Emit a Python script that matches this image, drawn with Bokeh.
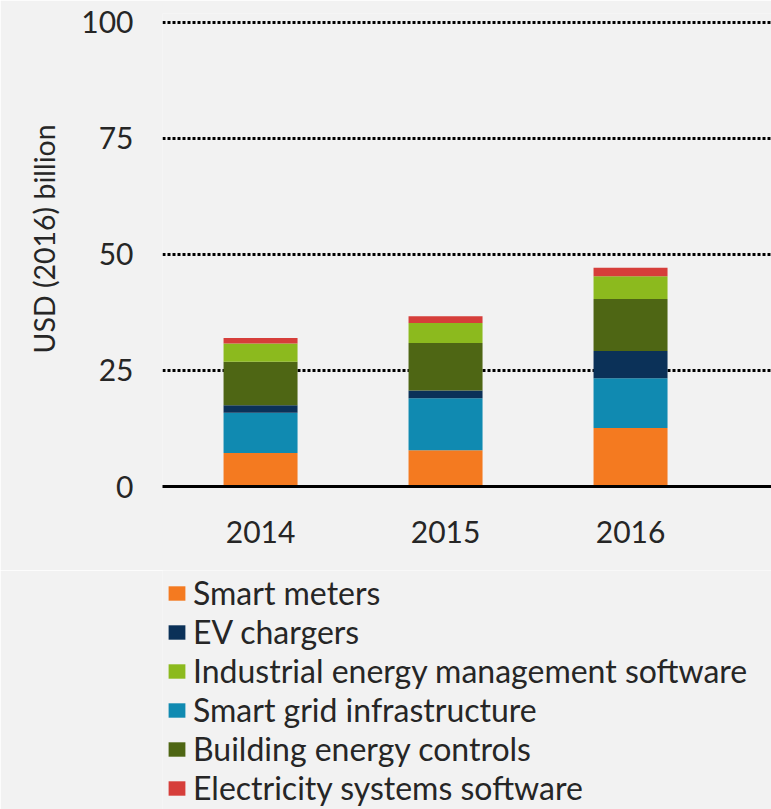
from bokeh.plotting import figure
from bokeh.layouts import column
from bokeh.models import ColumnDataSource, Range1d, FixedTicker, Legend, LegendItem, Title
from bokeh.embed import file_html
from bokeh.resources import INLINE

years = ["2014", "2015", "2016"]
smart_meters = [7.2, 7.8, 12.6]
smart_grid = [8.7, 11.2, 10.7]
ev_chargers = [1.6, 1.7, 5.9]
building_controls = [9.4, 10.2, 11.2]
industrial_software = [3.9, 4.3, 4.9]
electricity_software = [1.2, 1.5, 1.8]

stack_keys = ["smart_meters", "smart_grid", "ev_chargers", "building_controls",
              "industrial_software", "electricity_software"]
stack_labels = {"smart_meters": "Smart meters", "smart_grid": "Smart grid infrastructure",
                "ev_chargers": "EV chargers", "building_controls": "Building energy controls",
                "industrial_software": "Industrial energy management software",
                "electricity_software": "Electricity systems software"}
stack_colors = ["#F47A20", "#108AB1", "#0B3158", "#4E6614", "#8CBA1E", "#D63E3A"]
legend_order = ["smart_meters", "ev_chargers", "industrial_software", "smart_grid",
                "building_controls", "electricity_software"]

x = list(range(len(years)))
src = ColumnDataSource(dict(x=x, smart_meters=smart_meters, smart_grid=smart_grid,
                            ev_chargers=ev_chargers, building_controls=building_controls,
                            industrial_software=industrial_software,
                            electricity_software=electricity_software))

BG = "#f2f2f2"
FONT = "Lato"
TXT = "#262626"
MAIN_H = 570
p = figure(width=771, height=MAIN_H, output_backend="svg", toolbar_location=None,
           x_range=Range1d(-0.53, 2.762), y_range=Range1d(0, 101.9),
           min_border_left=162, min_border_right=0, min_border_top=13, min_border_bottom=84,
           background_fill_color=BG, border_fill_color=BG, outline_line_color=None)

renderers = p.vbar_stack(stack_keys, x="x", width=0.4, source=src, color=stack_colors,
                         line_color=None)

p.xgrid.grid_line_color = None
p.ygrid.grid_line_color = "black"
p.ygrid.grid_line_width = 3
p.ygrid.grid_line_dash = "3 2"
p.ygrid.ticker = FixedTicker(ticks=[25, 50, 75, 100])

p.yaxis.ticker = FixedTicker(ticks=[0, 25, 50, 75, 100])
p.yaxis.axis_line_color = None
p.yaxis.major_tick_line_color = None
p.yaxis.minor_tick_line_color = None
p.yaxis.major_label_standoff = 23
p.yaxis.major_label_text_font = FONT
p.yaxis.major_label_text_font_size = "30px"
p.yaxis.major_label_text_color = TXT

ytitle = Title(text="USD (2016) billion", align="left", offset=133, standoff=36,
               text_font=FONT, text_font_size="28.5px", text_font_style="normal",
               text_color=TXT)
p.add_layout(ytitle, "left")

p.xaxis.ticker = FixedTicker(ticks=x)
p.xaxis.major_label_overrides = {i: y for i, y in zip(x, years)}
p.xaxis.axis_line_color = "black"
p.xaxis.axis_line_width = 3
p.xaxis.major_tick_line_color = None
p.xaxis.minor_tick_line_color = None
p.xaxis.major_label_standoff = 28
p.xaxis.major_label_text_font = FONT
p.xaxis.major_label_text_font_size = "30px"
p.xaxis.major_label_text_color = TXT

# Legend panel below the chart (zero-height proxy bars carry the series colours)
LEG_H = 809 - MAIN_H
pl = figure(width=771, height=LEG_H, output_backend="svg", toolbar_location=None,
            x_range=Range1d(0, 1), y_range=Range1d(0, 1), x_axis_type=None, y_axis_type=None,
            min_border_left=162, min_border_right=0, min_border_top=0, min_border_bottom=0,
            background_fill_color=BG, border_fill_color=BG, outline_line_color=None)
color_of = dict(zip(stack_keys, stack_colors))
items = []
for k in legend_order:
    r = pl.vbar(x=[0.5], top=[0], bottom=[0], width=0.1, color=color_of[k], line_color=None)
    items.append(LegendItem(label=stack_labels[k], renderers=[r]))
legend = Legend(items=items, location=(4, 2), orientation="vertical",
                background_fill_color=BG, background_fill_alpha=1, border_line_color=None,
                label_text_font=FONT, label_text_font_size="32px", label_text_color=TXT,
                glyph_width=21, glyph_height=18, label_standoff=6, spacing=-5,
                label_height=30, padding=0, margin=0)
pl.add_layout(legend, "center")

layout = column(p, pl, spacing=0)
open("out.html", "w").write(file_html(layout, INLINE))
